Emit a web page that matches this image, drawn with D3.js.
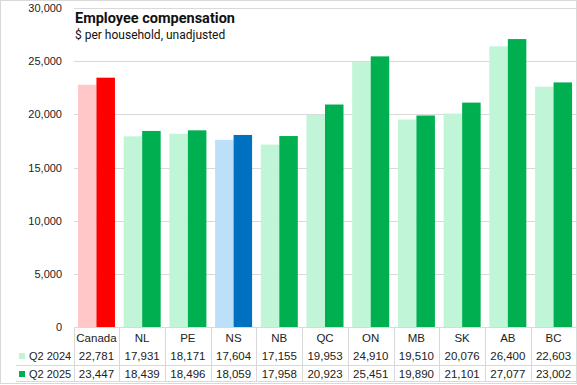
<!DOCTYPE html>
<html>
<head>
<meta charset="utf-8">
<script src="https://cdn.jsdelivr.net/npm/d3@7"></script>
<style>
  body { margin: 0; background: #fff; }
  svg { display: block; }
</style>
</head>
<body>
<div id="chart"></div>
<script>
// data
var categories = ["Canada", "NL", "PE", "NS", "NB", "QC", "ON", "MB", "SK", "AB", "BC"];
var seriesNames = ["Q2 2024", "Q2 2025"];
var q2_2024 = [22781, 17931, 18171, 17604, 17155, 19953, 24910, 19510, 20076, 26400, 22603];
var q2_2025 = [23447, 18439, 18496, 18059, 17958, 20923, 25451, 19890, 21101, 27077, 23002];
var yTicks = [0, 5000, 10000, 15000, 20000, 25000, 30000];

var W = 577, H = 385;
var plot = {left: 73.6, right: 576.4, top: 8, bottom: 327};

// colours: Canada red, NS blue, the rest green
var palette = {
  Canada: ["#ffc7c7", "#ff0000"],
  NS: ["#bde0fa", "#0070c0"],
  other: ["#c0f5d8", "#00b050"]
};
function barColor(cat, i) {
  var p = palette[cat] || palette.other;
  return p[i];
}

var svg = d3.select("#chart").append("svg")
  .attr("width", W).attr("height", H);

var x0 = d3.scaleBand()
  .domain(categories)
  .range([plot.left, plot.right])
  .paddingInner(0.19)
  .paddingOuter(0.095);

var x1 = d3.scaleBand()
  .domain(seriesNames)
  .range([0, x0.bandwidth()])
  .padding(0);

var y = d3.scaleLinear()
  .domain([0, 30000])
  .range([plot.bottom, plot.top]);

var step = x0.step();
function colLeft(c) { return x0(c) + x0.bandwidth() / 2 - step / 2; }

// gridlines
svg.append("g")
  .attr("transform", "translate(" + plot.left + ",0)")
  .call(d3.axisLeft(y).tickValues(yTicks).tickSize(-(W - plot.left)).tickFormat(""))
  .call(function(g) {
    g.select(".domain").remove();
    g.selectAll("line").attr("stroke", "#d9d9d9").attr("shape-rendering", "crispEdges");
  });

// y labels
svg.append("g")
  .selectAll("text")
  .data(yTicks)
  .enter().append("text")
  .attr("x", 62)
  .attr("y", function(d) { return y(d) + 4; })
  .attr("text-anchor", "end")
  .attr("font-family", "Liberation Sans, Arial, sans-serif")
  .attr("font-size", "11px")
  .attr("fill", "#222")
  .text(d3.format(","));

// bars
var rows = categories.map(function(c, i) {
  return {cat: c, vals: [q2_2024[i], q2_2025[i]]};
});

svg.append("g")
  .selectAll("g")
  .data(rows)
  .enter().append("g")
  .attr("transform", function(d) { return "translate(" + x0(d.cat) + ",0)"; })
  .selectAll("rect")
  .data(function(d) { return d.vals.map(function(v, i) { return {cat: d.cat, s: seriesNames[i], i: i, v: v}; }); })
  .enter().append("rect")
  .attr("x", function(d) { return x1(d.s); })
  .attr("y", function(d) { return y(d.v); })
  .attr("width", x1.bandwidth())
  .attr("height", function(d) { return y(0) - y(d.v); })
  .attr("fill", function(d) { return barColor(d.cat, d.i); });

// title
svg.append("text")
  .attr("x", 75).attr("y", 23)
  .attr("font-family", "Roboto, sans-serif")
  .attr("font-weight", "bold")
  .attr("font-size", "14.5px")
  .attr("fill", "#111")
  .text("Employee compensation");

svg.append("text")
  .attr("x", 75).attr("y", 39)
  .attr("font-family", "Roboto, sans-serif")
  .attr("font-size", "12px")
  .attr("fill", "#111")
  .text("$ per household, unadjusted");

// data table
var rowY = [327, 346, 365, 381];
var line = 'stroke:#d9d9d9; stroke-width:1; shape-rendering: crispEdges;';

svg.append('line').attr('x1', plot.left).attr('y1', plot.bottom).attr('x2', W).attr('y2', plot.bottom).attr('style', line);
svg.append('line').attr('x1', 16).attr('y1', rowY[2]).attr('x2', W).attr('y2', rowY[2]).attr('style', line);
svg.append('line').attr('x1', 16).attr('y1', rowY[3]).attr('x2', W).attr('y2', rowY[3]).attr('style', line);

svg.append("g")
  .selectAll("line")
  .data(categories)
  .enter().append("line")
  .attr("x1", function(c) { return Math.round(colLeft(c)) + 0.5; })
  .attr("x2", function(c) { return Math.round(colLeft(c)) + 0.5; })
  .attr("y1", rowY[0]).attr("y2", rowY[3])
  .attr("style", line);

var tfont = "Liberation Sans, Arial, sans-serif";

svg.append("g")
  .selectAll("text")
  .data(categories)
  .enter().append("text")
  .attr("x", function(c) { return x0(c) + x0.bandwidth() / 2; })
  .attr("y", 342)
  .attr("text-anchor", "middle")
  .attr("font-family", tfont)
  .attr("font-size", "11.5px")
  .attr("fill", "#222")
  .text(function(c) { return c; });

[q2_2024, q2_2025].forEach(function(vals, si) {
  var yy = si === 0 ? 360 : 378;
  svg.append("rect")
    .attr("x", 19).attr("y", yy - 7)
    .attr("width", 6).attr("height", 6)
    .attr("fill", palette.other[si]);
  svg.append("text")
    .attr("x", 29).attr("y", yy)
    .attr("font-family", tfont)
    .attr("font-size", "11px")
    .attr("fill", "#222")
    .text(seriesNames[si]);
  svg.append("g")
    .selectAll("text")
    .data(vals)
    .enter().append("text")
    .attr("x", function(v, i) { return x0(categories[i]) + x0.bandwidth() / 2; })
    .attr("y", yy)
    .attr("text-anchor", "middle")
    .attr("font-family", tfont)
    .attr("font-size", "11.5px")
    .attr("fill", "#222")
    .text(d3.format(","));
});

// chart border
svg.append("rect")
  .attr("x", 0.5).attr("y", 0.5)
  .attr("width", W - 1).attr("height", H - 2)
  .attr("style", "stroke:#d9d9d9; fill:none; stroke-width:1px; shape-rendering: crispEdges;");
</script>
</body>
</html>
